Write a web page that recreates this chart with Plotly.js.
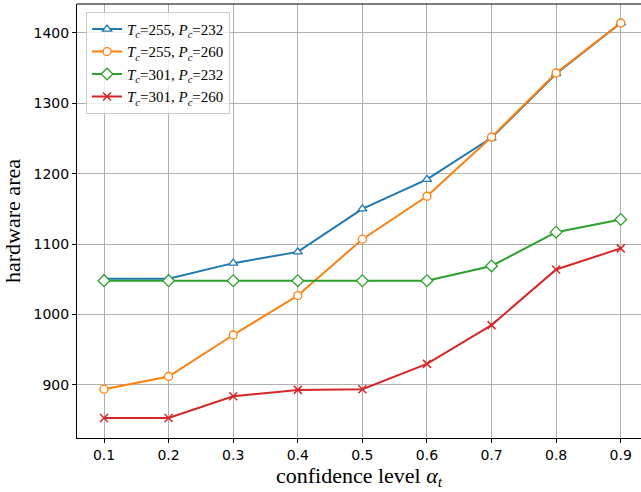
<!DOCTYPE html>
<html>
<head>
<meta charset="utf-8">
<script src="https://cdn.plot.ly/plotly-3.0.1.min.js"></script>
<style>html,body{margin:0;padding:0;background:#fff;}#chart{width:641px;height:492px;}</style>
</head>
<body>
<div id="chart"></div>
<script>
const alphaLevels = [0.1, 0.2, 0.3, 0.4, 0.5, 0.6, 0.7, 0.8, 0.9];
const tc255pc232 = [1051, 1051, 1073, 1089, 1150, 1192, 1251, 1342, 1414];
const tc255pc260 = [894, 912, 971, 1027, 1107, 1168, 1252, 1343, 1414];
const tc301pc232 = [1048, 1048, 1048, 1048, 1048, 1048, 1069, 1117, 1135];
const tc301pc260 = [853, 853, 884, 893, 894, 930, 985, 1064, 1094];
const seriesNames = [
  "<i>T</i><sub><i>c</i></sub>=255, <i>P</i><sub><i>c</i></sub>=232",
  "<i>T</i><sub><i>c</i></sub>=255, <i>P</i><sub><i>c</i></sub>=260",
  "<i>T</i><sub><i>c</i></sub>=301, <i>P</i><sub><i>c</i></sub>=232",
  "<i>T</i><sub><i>c</i></sub>=301, <i>P</i><sub><i>c</i></sub>=260"
];
const xTickVals = [0.1, 0.2, 0.3, 0.4, 0.5, 0.6, 0.7, 0.8, 0.9];
const xTickText = ["0.1", "0.2", "0.3", "0.4", "0.5", "0.6", "0.7", "0.8", "0.9"];
const yTickVals = [900, 1000, 1100, 1200, 1300, 1400];

const colors = ["#1f77b4", "#ff7f0e", "#2ca02c", "#d62728"];
const symbols = ["triangle-up", "circle", "diamond", "x-thin"];
const sizes = [8, 8, 9, 8];
const dataSets = [tc255pc232, tc255pc260, tc301pc232, tc301pc260];

const traces = dataSets.map((ys, i) => ({
  x: alphaLevels,
  y: ys,
  name: seriesNames[i],
  type: "scatter",
  mode: "lines+markers",
  line: {color: colors[i], width: 2},
  marker: i === 3
    ? {symbol: symbols[i], size: sizes[i], line: {color: colors[i], width: 1.5}}
    : {symbol: symbols[i], size: sizes[i], color: "#ffffff", line: {color: colors[i], width: 1.3}}
}));

const layout = {
  width: 641,
  height: 492,
  margin: {l: 77, r: 0, t: 4, b: 54},
  paper_bgcolor: "#ffffff",
  plot_bgcolor: "#ffffff",
  showlegend: true,
  legend: {
    x: 0.016, y: 0.982, xanchor: "left", yanchor: "top",
    bgcolor: "rgba(255,255,255,0.8)",
    bordercolor: "#cccccc", borderwidth: 1,
    font: {family: "Liberation Serif, Times New Roman, serif", size: 15, color: "#000"},
    tracegroupgap: 0
  },
  xaxis: {
    range: [0.0582, 0.9314],
    tickvals: xTickVals,
    ticktext: xTickText,
    ticks: "outside", ticklen: 4, tickwidth: 1, tickcolor: "#000",
    showline: true, linecolor: "#000", linewidth: 1, mirror: false,
    showgrid: true, gridcolor: "#b0b0b0", gridwidth: 1,
    zeroline: false,
    tickfont: {family: "DejaVu Sans, sans-serif", size: 14, color: "#000"},
    title: {text: "confidence level <i>α</i><sub><i>t</i></sub>", font: {family: "Liberation Serif, Times New Roman, serif", size: 22, color: "#000"}, standoff: 3}
  },
  yaxis: {
    range: [824.7, 1441],
    tickvals: yTickVals,
    ticks: "outside", ticklen: 4, tickwidth: 1, tickcolor: "#000",
    showline: true, linecolor: "#000", linewidth: 1,
    showgrid: true, gridcolor: "#b0b0b0", gridwidth: 1,
    zeroline: false,
    tickfont: {family: "DejaVu Sans, sans-serif", size: 14, color: "#000"},
    title: {text: "hardware area", font: {family: "Liberation Serif, Times New Roman, serif", size: 22, color: "#000"}, standoff: 7}
  },
  shapes: [
    {type: "line", xref: "paper", yref: "paper", x0: 0, x1: 1, y0: 1, y1: 1, line: {color: "#000", width: 1}}
  ]
};

Plotly.newPlot("chart", traces, layout, {staticPlot: true, displayModeBar: false});
</script>
</body>
</html>
